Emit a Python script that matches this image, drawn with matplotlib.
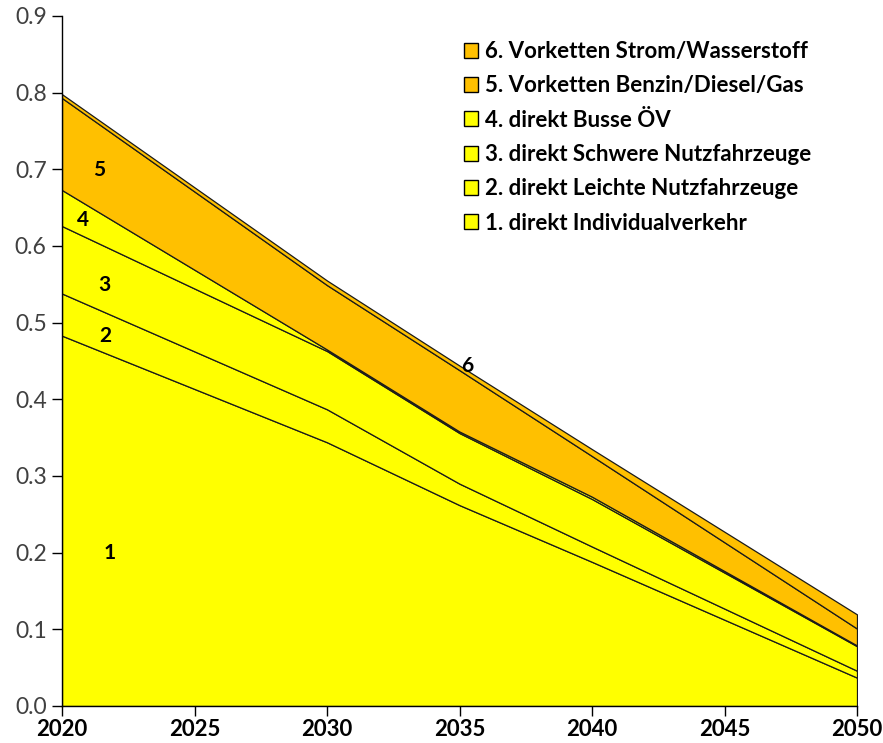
import matplotlib
matplotlib.use("Agg")
import matplotlib.pyplot as plt
from matplotlib.patches import Patch

years = [2020, 2030, 2035, 2040, 2050]

individualverkehr = [0.483, 0.344, 0.262, 0.188, 0.037]
leichte_nfz = [0.055, 0.043, 0.028, 0.020, 0.009]
schwere_nfz = [0.088, 0.076, 0.066, 0.062, 0.032]
busse_oev = [0.047, 0.002, 0.002, 0.003, 0.001]
vorketten_fossil = [0.120, 0.084, 0.080, 0.053, 0.022]
vorketten_strom_h2 = [0.005, 0.006, 0.006, 0.009, 0.0185]

series_labels = [
    "1. direkt Individualverkehr",
    "2. direkt Leichte Nutzfahrzeuge",
    "3. direkt Schwere Nutzfahrzeuge",
    "4. direkt Busse ÖV",
    "5. Vorketten Benzin/Diesel/Gas",
    "6. Vorketten Strom/Wasserstoff",
]

x_ticks = [2020, 2025, 2030, 2035, 2040, 2045, 2050]
y_ticks = [0.0, 0.1, 0.2, 0.3, 0.4, 0.5, 0.6, 0.7, 0.8, 0.9]

# in-chart labels: (text, year, value)
area_labels = [("1", 2021.8, 0.200), ("2", 2021.65, 0.482), ("3", 2021.6, 0.549),
               ("4", 2020.8, 0.634), ("5", 2021.4, 0.699), ("6", 2035.3, 0.443)]

YELLOW = "#FFFF00"
ORANGE = "#FFC000"
colors = [YELLOW, YELLOW, YELLOW, YELLOW, ORANGE, ORANGE]

plt.rcParams["font.family"] = ["Lato", "DejaVu Sans"]

fig = plt.figure(figsize=(8.83, 7.43), dpi=100)
ax = fig.add_axes([62 / 883, 37 / 743, 795 / 883, 690 / 743])

data = [individualverkehr, leichte_nfz, schwere_nfz, busse_oev,
        vorketten_fossil, vorketten_strom_h2]
ax.stackplot(years, *data, colors=colors, edgecolor="#1a1a1a", linewidth=0.9)

ax.set_xlim(2020, 2050)
ax.set_ylim(0, 0.9)
ax.set_xticks(x_ticks)
ax.set_yticks(y_ticks)
ax.set_xticklabels([str(t) for t in x_ticks], fontsize=16, fontweight="bold")
ax.set_yticklabels([f"{t:.1f}" for t in y_ticks], fontsize=16.5, color="#404040")

for side in ("top", "right"):
    ax.spines[side].set_visible(False)
for side in ("left", "bottom"):
    ax.spines[side].set_color("#000000")
    ax.spines[side].set_linewidth(1.0)
ax.tick_params(axis="both", direction="out", length=7, width=1.0, color="#000000")
ax.tick_params(axis="x", pad=2)
ax.tick_params(axis="y", pad=4)

for txt, xv, yv in area_labels:
    ax.text(xv, yv, txt, fontsize=15, fontweight="bold", ha="center", va="center",
            color="#000000")

handles = [Patch(facecolor=c, edgecolor="#000000", linewidth=1.0)
           for c in colors]
leg = fig.legend(handles[::-1], series_labels[::-1], loc="upper left",
                 bbox_to_anchor=(464 / 883, 1 - 41 / 743), frameon=False,
                 prop={"size": 16, "weight": "bold"}, handlelength=0.65,
                 handleheight=0.65, handletextpad=0.3, labelspacing=0.6,
                 borderpad=0, borderaxespad=0)

fig.savefig("out.png", dpi=100)
